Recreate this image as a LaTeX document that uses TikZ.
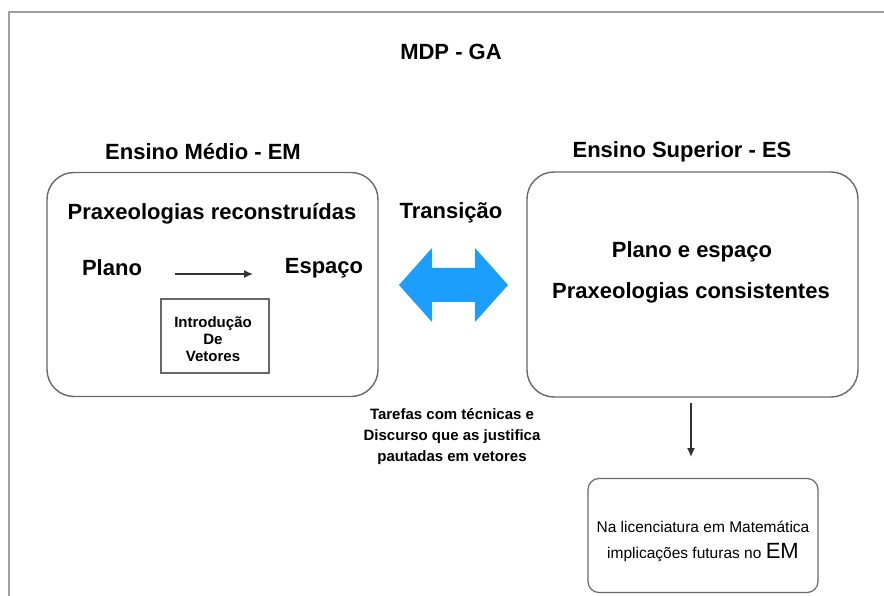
\documentclass[tikz,border=0pt]{standalone}
\usepackage{fontspec}
\setmainfont{Liberation Sans}
\usetikzlibrary{arrows.meta}
\definecolor{framegray}{RGB}{160,160,160}
\definecolor{boxgray}{RGB}{105,105,105}
\definecolor{arrowblue}{RGB}{28,158,255}
\begin{document}
\begin{tikzpicture}[x=1pt,y=-1pt,
  bigtxt/.style={font=\fontsize{22}{26}\selectfont\bfseries, inner sep=0pt},
  smalltxt/.style={font=\fontsize{15}{21}\selectfont\bfseries, inner sep=0pt, align=center},
  roundbox/.style={draw=boxgray, line width=1.4pt, rounded corners=27pt, inner sep=0pt},
  plainbox/.style={draw=boxgray, line width=1.2pt, inner sep=0pt},
  conn/.style={draw=black!80, line width=1.3pt, -{Latex[length=9pt,width=8pt]}}
]
\useasboundingbox (0,0) rectangle (884,596);
\fill[white] (0,0) rectangle (884,596);
% outer frame
\draw[framegray, line width=2pt] (9,600) -- (9,12) -- (890,12);

% title and headings
\node[bigtxt] (title) at (451,52) {MDP - GA};
\node[bigtxt] (hem) at (203,152) {Ensino Médio - EM};
\node[bigtxt] (hes) at (682,152) {Ensino Superior - ES};

% left box
\node[roundbox, minimum width=331pt, minimum height=224pt] (lbox) at (212.5,284.5) {};
\node[bigtxt] (prax) at (212,214) {Praxeologias reconstruídas};
\node[bigtxt] (plano) at (112,268) {Plano};
\node[bigtxt] (espaco) at (324,268) {Espaço};
\coordinate (a1) at (175,274);
\coordinate (a2) at (253,274);
\draw[conn] (a1) -- (a2);
\node[plainbox, minimum width=108pt, minimum height=74pt] (intro) at (215,336) {};
\node[font=\fontsize{15}{17}\selectfont\bfseries, align=center, inner sep=0pt] (introtxt) at (213,339) {Introdução\\De\\Vetores};

% transition
\node[bigtxt] (trans) at (451,213) {Transição};
\fill[arrowblue] (399,285) -- (432,248) -- (432,268) -- (475,268) -- (475,248)
  -- (508,285) -- (475,322) -- (475,302) -- (432,302) -- (432,322) -- cycle;

% right box
\node[roundbox, minimum width=331pt, minimum height=225pt] (rbox) at (692.5,284.5) {};
\node[bigtxt] (pe) at (692,252) {Plano e espaço};
\node[bigtxt] (pc) at (691,293) {Praxeologias consistentes};

% tasks text
\node[smalltxt] (tasks) at (452,437) {Tarefas com técnicas e\\Discurso que as justifica\\pautadas em vetores};

% bottom box
\node[draw=boxgray, line width=1.2pt, rounded corners=11pt, minimum width=230pt, minimum height=114pt, inner sep=0pt] (bbox) at (703,535.5) {};
\node[font=\fontsize{15.5}{18}\selectfont, inner sep=0pt] (lic1) at (703,527) {Na licenciatura em Matemática};
\node[font=\fontsize{15.5}{18}\selectfont, inner sep=0pt, anchor=base] (lic2) at (703,558) {implicações futuras no \fontsize{22}{24}\selectfont EM};

% down arrow
\coordinate (d1) at (691,403);
\coordinate (d2) at (691,457);
\draw[conn] (d1) -- (d2);
\end{tikzpicture}
\end{document}
